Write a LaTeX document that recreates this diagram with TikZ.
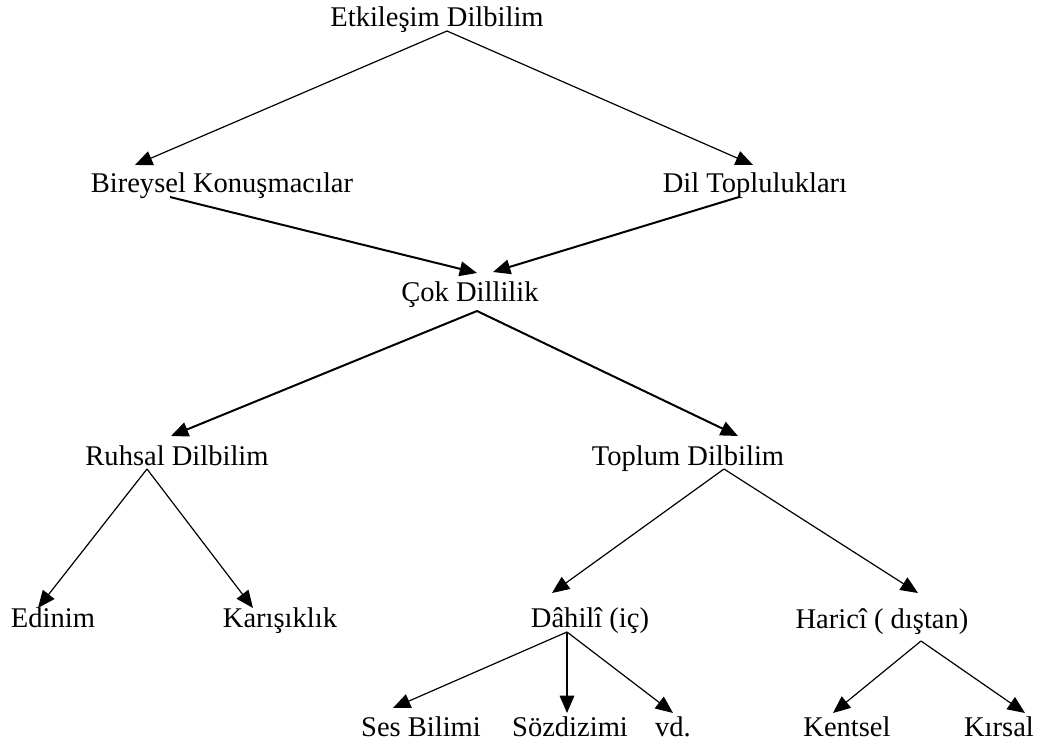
\documentclass[tikz,border=0pt]{standalone}
\usepackage{fontspec}
\setmainfont{Liberation Serif}
\usetikzlibrary{arrows.meta}
\begin{document}
\begin{tikzpicture}[x=0.75pt,y=-0.75pt,
  lbl/.style={anchor=base, inner sep=0pt, font=\fontsize{21.4}{25}\selectfont},
  conn/.style={line width=0.9pt, -{Triangle[length=13pt,width=11pt]}},
  connthick/.style={line width=1.5pt, -{Triangle[length=13pt,width=11pt]}}]
\useasboundingbox (0,0) rectangle (1040,742);
% texts
\node[lbl] (etk) at (437,27) {Etkileşim Dilbilim};
\node[lbl] (bir) at (222,192) {Bireysel Konuşmacılar};
\node[lbl] (dil) at (755,192) {Dil Toplulukları};
\node[lbl] (cok) at (470,301) {Çok Dillilik};
\node[lbl] (ruh) at (177,465) {Ruhsal Dilbilim};
\node[lbl] (top) at (688,465) {Toplum Dilbilim};
\node[lbl] (edi) at (53,627) {Edinim};
\node[lbl] (kar) at (280,627) {Karışıklık};
\node[lbl] (dah) at (590,627) {Dâhilî (iç)};
\node[lbl] (har) at (882,628) {Haricî ( dıştan)};
\node[lbl] (ses) at (421,736) {Ses Bilimi};
\node[lbl] (soz) at (570,736) {Sözdizimi};
\node[lbl] (vd) at (673,736) {vd.};
\node[lbl] (ken) at (847,736) {Kentsel};
\node[lbl] (kir) at (999,736) {Kırsal};
% connector ends
\coordinate (etkS) at (447,31);
\coordinate (birN) at (135,165);
\coordinate (dilN) at (753,165);
\coordinate (birS) at (170,197);
\coordinate (dilS) at (739,197);
\coordinate (cokNW) at (477,273);
\coordinate (cokNE) at (493,272);
\coordinate (cokS) at (477,311);
\coordinate (ruhN) at (171,436);
\coordinate (topN) at (738,436);
\coordinate (ruhS) at (147,469);
\coordinate (topS) at (724,469);
\coordinate (ediN) at (38,608);
\coordinate (karN) at (253,608);
\coordinate (dahN) at (552,593);
\coordinate (harN) at (918,593);
\coordinate (dahS) at (567,632);
\coordinate (harS) at (921,641);
\coordinate (sesN) at (393,708);
\coordinate (sozN) at (567,713);
\coordinate (vdN) at (673,713);
\coordinate (kenN) at (833,713);
\coordinate (kirN) at (1025,713);
% connectors
\draw[conn] (etkS) -- (birN);
\draw[conn] (etkS) -- (dilN);
\draw[connthick] (birS) -- (cokNW);
\draw[connthick] (dilS) -- (cokNE);
\draw[connthick] (cokS) -- (ruhN);
\draw[connthick] (cokS) -- (topN);
\draw[conn] (ruhS) -- (ediN);
\draw[conn] (ruhS) -- (karN);
\draw[conn] (topS) -- (dahN);
\draw[conn] (topS) -- (harN);
\draw[conn] (dahS) -- (sesN);
\draw[conn] (dahS) -- (sozN);
\draw[conn] (dahS) -- (vdN);
\draw[conn] (harS) -- (kenN);
\draw[conn] (harS) -- (kirN);
\end{tikzpicture}
\end{document}
